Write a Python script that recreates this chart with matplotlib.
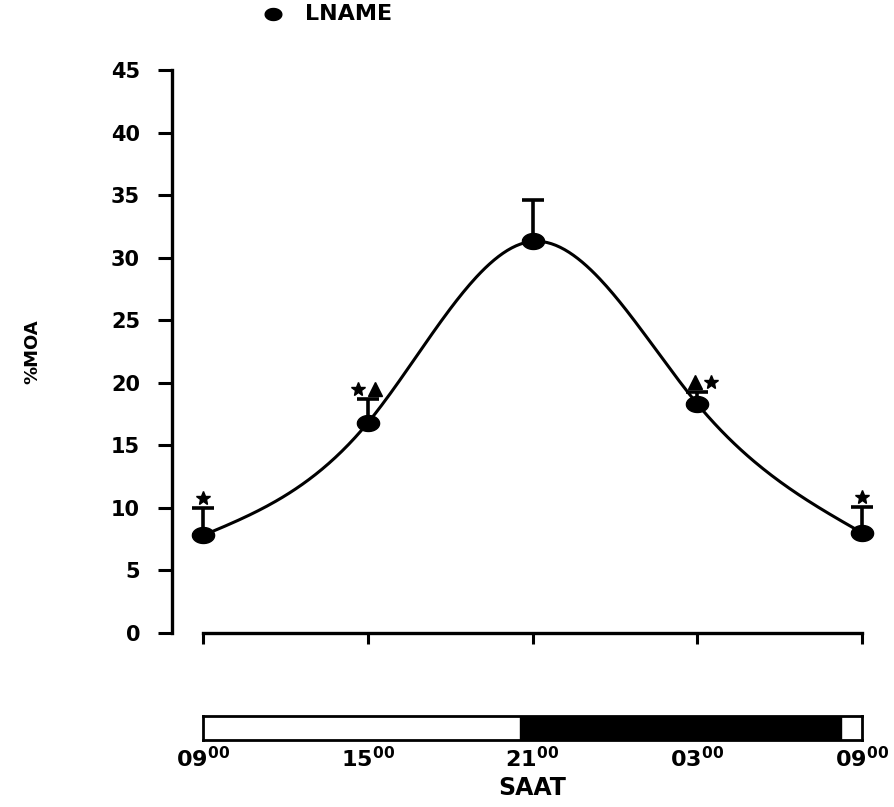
import numpy as np
import matplotlib
matplotlib.use("Agg")
import matplotlib.pyplot as plt
from matplotlib.lines import Line2D
from matplotlib.path import Path

# data
hours = [0, 6, 12, 18, 24]
hour_labels = ["09", "15", "21", "03", "09"]
moa = [7.8, 16.8, 31.3, 18.3, 8.0]
moa_err = [2.2, 1.9, 3.3, 1.0, 2.1]
sig_star = [True, True, False, True, True]
sig_tri = [False, True, False, True, False]
dark_start = 11.55
dark_end = 23.25

plt.rcParams['font.family'] = ['DejaVu Sans']
plt.rcParams['font.weight'] = 'bold'


def natural_spline(x, y, xs):
    # natural cubic spline through the measured points
    x = np.asarray(x, float)
    y = np.asarray(y, float)
    n = len(x)
    h = np.diff(x)
    A = np.zeros((n, n))
    b = np.zeros(n)
    A[0, 0] = A[-1, -1] = 1
    for i in range(1, n - 1):
        A[i, i - 1] = h[i - 1]
        A[i, i] = 2 * (h[i - 1] + h[i])
        A[i, i + 1] = h[i]
        b[i] = 6 * ((y[i + 1] - y[i]) / h[i] - (y[i] - y[i - 1]) / h[i - 1])
    m = np.linalg.solve(A, b)
    out = np.empty_like(xs)
    for k, xv in enumerate(xs):
        i = min(np.searchsorted(x, xv, side='right') - 1, n - 2)
        t = xv - x[i]
        hi = h[i]
        a = (m[i + 1] - m[i]) / (6 * hi)
        bb = m[i] / 2
        c = (y[i + 1] - y[i]) / hi - hi * (2 * m[i] + m[i + 1]) / 6
        out[k] = y[i] + c * t + bb * t ** 2 + a * t ** 3
    return out


# slightly flattened dot, like the original symbols
th = np.linspace(0, 2 * np.pi, 40)
oval = Path(np.column_stack([np.cos(th), 0.72 * np.sin(th)]), closed=True)

fig = plt.figure(figsize=(8.94, 8.07), dpi=100)

ax = fig.add_axes([0.1924, 0.2156, 0.792, 0.6977])
ax.set_xlim(-1.13, 24.65)
ax.set_ylim(0, 45)

xs = np.linspace(hours[0], hours[-1], 300)
ax.plot(xs, natural_spline(hours, moa, xs), color='black', lw=2.2, zorder=2)

zeros = np.zeros(len(moa))
ax.errorbar(hours, moa, yerr=[zeros, moa_err], fmt='none', ecolor='black',
            elinewidth=2.6, capsize=8, capthick=2.6, zorder=3, clip_on=False)
ax.plot(hours, moa, marker=oval, ls='none', color='black', ms=16, zorder=4, clip_on=False)

# significance symbols above the error bars
tops = np.array(moa) + np.array(moa_err)
for h, top, s, t in zip(hours, tops, sig_star, sig_tri):
    if s and t:
        # star and triangle side by side (order differs before/after peak)
        if h < 12:
            xs_star, xs_tri = h - 0.35, h + 0.25
        else:
            xs_star, xs_tri = h + 0.5, h - 0.1
        ax.plot(xs_star, top + 0.8, marker='*', color='black', ms=10, clip_on=False)
        ax.plot(xs_tri, top + 0.8, marker='^', color='black', ms=10, clip_on=False)
    elif s:
        ax.plot(h, top + 0.8, marker='*', color='black', ms=10, clip_on=False)

for side in ['top', 'right']:
    ax.spines[side].set_visible(False)
ax.spines['left'].set_linewidth(2.4)
ax.spines['bottom'].set_linewidth(2.4)
ax.spines['left'].set_bounds(0, 45)
ax.spines['bottom'].set_bounds(0, 24)

ax.set_yticks(np.arange(0, 46, 5))
ax.set_xticks(hours)
ax.set_xticklabels([])
ax.tick_params(axis='y', length=10, width=2.2, labelsize=15, pad=13)
ax.tick_params(axis='x', length=8, width=2.2)
for lab in ax.get_yticklabels():
    lab.set_fontweight('bold')

ax.set_ylabel('%MOA', fontsize=13, fontweight='bold', labelpad=50)

# light/dark bar
bar = fig.add_axes([0.2271, 0.083, 0.737, 0.0297])
bar.set_xlim(0, 24)
bar.set_ylim(0, 1)
bar.axvspan(dark_start, dark_end, color='black')
for sp in bar.spines.values():
    sp.set_linewidth(2)
bar.set_yticks([])
bar.set_xticks(hours)
bar.set_xticklabels([lab + r'$^{\mathbf{00}}$' for lab in hour_labels],
                    fontsize=16, fontweight='bold')
bar.tick_params(axis='x', length=0, pad=4)
bar.set_xlabel('SAAT', fontsize=17, fontweight='bold', labelpad=4)

# legend
fig.add_artist(Line2D([273 / 894], [1 - 14 / 807], marker=oval, color='black',
                      ms=12, ls='none', transform=fig.transFigure))
fig.text(305 / 894, 1 - 14 / 807, 'LNAME', fontsize=16, fontweight='bold',
         ha='left', va='center')

fig.savefig('out.png', dpi=100)
